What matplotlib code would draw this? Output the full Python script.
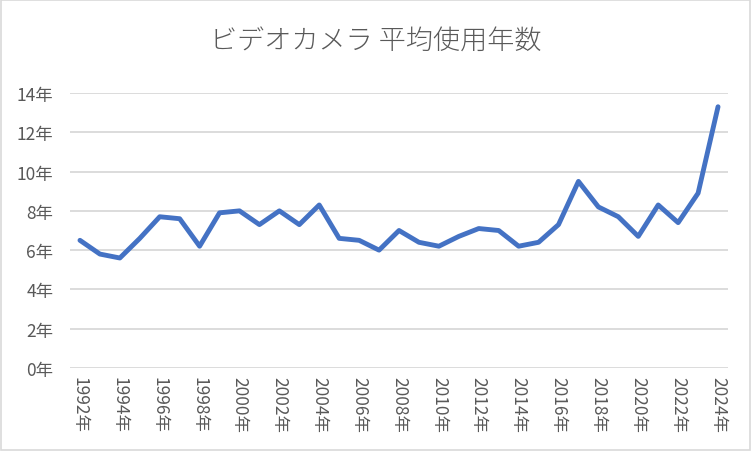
import matplotlib
matplotlib.use("Agg")
import matplotlib.pyplot as plt
from matplotlib.patches import Rectangle

plt.rcParams['font.family'] = ['Noto Sans CJK JP', 'DejaVu Sans']

# データ
years = list(range(1992, 2025))
values = [6.5, 5.8, 5.6, 6.6, 7.7, 7.6, 6.2, 7.9, 8.0, 7.3, 8.0, 7.3, 8.3,
          6.6, 6.5, 6.0, 7.0, 6.4, 6.2, 6.7, 7.1, 7.0, 6.2, 6.4, 7.3, 9.5,
          8.2, 7.7, 6.7, 8.3, 7.4, 8.9, 13.3]
y_ticks = [0, 2, 4, 6, 8, 10, 12, 14]
title = "ビデオカメラ 平均使用年数"

fig = plt.figure(figsize=(7.52, 4.52), dpi=100)
ax = fig.add_axes([70 / 752, 83 / 452, 658 / 752, 275 / 452])

x = list(range(len(years)))
ax.plot(x, values, color="#4472C4", linewidth=3.5, solid_capstyle="round",
        solid_joinstyle="round", zorder=3)

ax.set_xlim(-0.5, len(years) - 0.5)
ax.set_ylim(0, 14)
ax.set_yticks(y_ticks)
ax.set_yticklabels([f"{v}年" for v in y_ticks], fontsize=12.5, color="#595959")
ax.set_xticks(x[::2])
ax.set_xticklabels([f"{y}年" for y in years[::2]], rotation=-90,
                   fontsize=12.5, color="#595959", va="top")
ax.tick_params(axis="y", length=0, pad=12)
ax.tick_params(axis="x", length=0, pad=6)
ax.grid(axis="y", color="#D9D9D9", linewidth=1.3, zorder=0)
for s in ax.spines.values():
    s.set_visible(False)

fig.text(0.5, 1 - 42 / 452, title, ha="center", va="center",
         fontsize=19.5, color="#595959", fontweight="light")

# 枠線
fig.patches.append(Rectangle((0.001, 0.002), 0.997, 0.996, transform=fig.transFigure,
                             fill=False, edgecolor="#D9D9D9", linewidth=1.2))

fig.savefig("out.png", dpi=100)
